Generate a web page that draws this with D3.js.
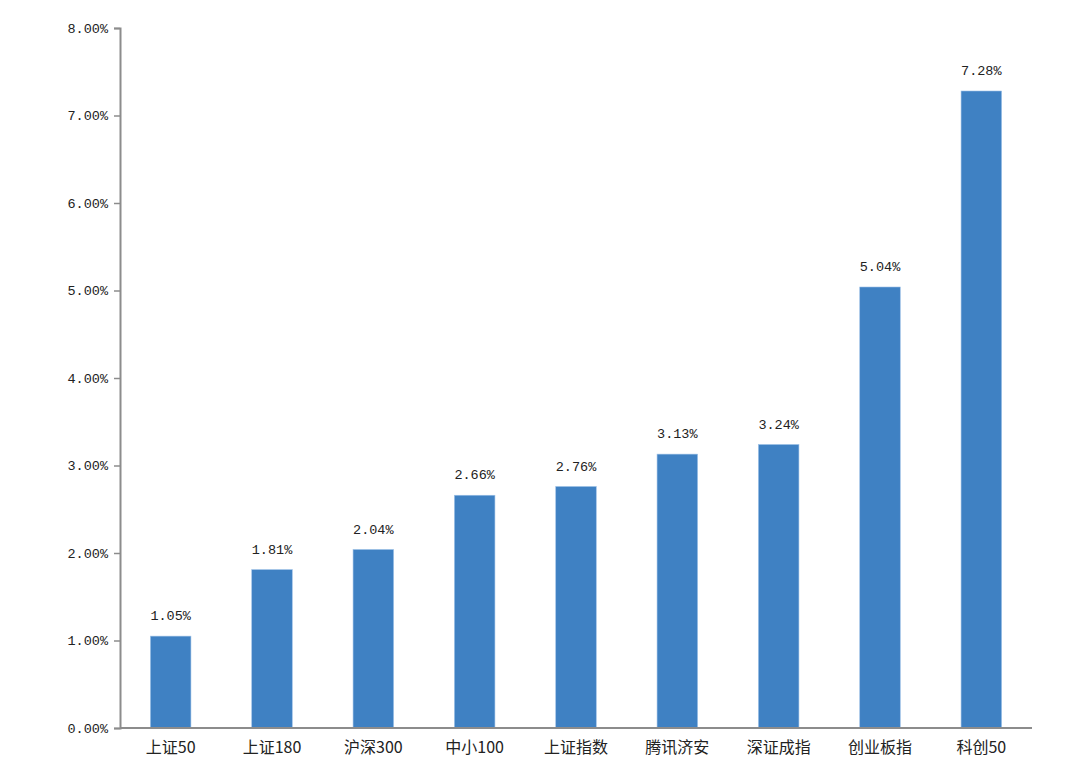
<!DOCTYPE html>
<head>
    <meta charset="utf-8">
    <script src="https://d3js.org/d3.v7.min.js"></script>
    <style>
        body { margin: 0; background: #fff; }
        svg { display: block; }
    </style>
</head>
<body>
    <script>
        const categories = ["上证50", "上证180", "沪深300", "中小100", "上证指数", "腾讯济安", "深证成指", "创业板指", "科创50"],
            values = [1.05, 1.81, 2.04, 2.66, 2.76, 3.13, 3.24, 5.04, 7.28],
            yTicks = [0, 1, 2, 3, 4, 5, 6, 7, 8];

        const width = 1080, height = 774,
            margin = { top: 28, right: 48, bottom: 46, left: 120 };

        const svg = d3.select("body").append("svg")
            .attr("width", width)
            .attr("height", height);

        const x = d3.scaleBand()
            .domain(categories)
            .range([margin.left, width - margin.right])
            .paddingInner(0.6)
            .paddingOuter(0.3);

        const y = d3.scaleLinear()
            .domain([0, 8])
            .range([height - margin.bottom, margin.top]);

        // bars
        svg.append("g")
            .selectAll("rect")
            .data(values)
            .enter().append("rect")
            .attr("x", (d, i) => x(categories[i]))
            .attr("y", d => y(d))
            .attr("width", x.bandwidth())
            .attr("height", d => y(0) - y(d))
            .attr("fill", "#3f81c3")
            .attr("stroke", "#9cc0e6")
            .attr("stroke-width", 0.6);

        // value labels
        svg.append("g")
            .selectAll("text")
            .data(values)
            .enter().append("text")
            .attr("x", (d, i) => x(categories[i]) + x.bandwidth() / 2)
            .attr("y", d => y(d) - 16)
            .attr("text-anchor", "middle")
            .attr("font-family", "Liberation Mono, DejaVu Sans Mono, monospace")
            .attr("font-size", 13.5)
            .attr("fill", "#222")
            .text(d => d.toFixed(2) + "%");

        // y axis
        const yAxis = svg.append("g")
            .attr("transform", `translate(${margin.left},0)`)
            .call(d3.axisLeft(y)
                .tickValues(yTicks)
                .tickSize(6)
                .tickPadding(6)
                .tickFormat(d => d.toFixed(2) + "%"));
        yAxis.select(".domain").attr("stroke", "#8c8c8c").attr("stroke-width", 2);
        yAxis.selectAll(".tick line").attr("stroke", "#8c8c8c").attr("stroke-width", 1.5);
        yAxis.selectAll(".tick text")
            .attr("font-family", "Liberation Mono, DejaVu Sans Mono, monospace")
            .attr("font-size", 13.5)
            .attr("fill", "#222");

        // x axis
        const xAxis = svg.append("g")
            .attr("transform", `translate(0,${y(0)})`)
            .call(d3.axisBottom(x).tickSize(0).tickPadding(14).tickSizeOuter(0));
        xAxis.select(".domain")
            .attr("d", `M${margin.left},0H${width - margin.right}`)
            .attr("stroke", "#8c8c8c").attr("stroke-width", 2);
        xAxis.selectAll(".tick text")
            .attr("font-family", "Noto Sans CJK SC, sans-serif")
            .attr("font-size", 16)
            .attr("fill", "#222");
    </script>
</body>
